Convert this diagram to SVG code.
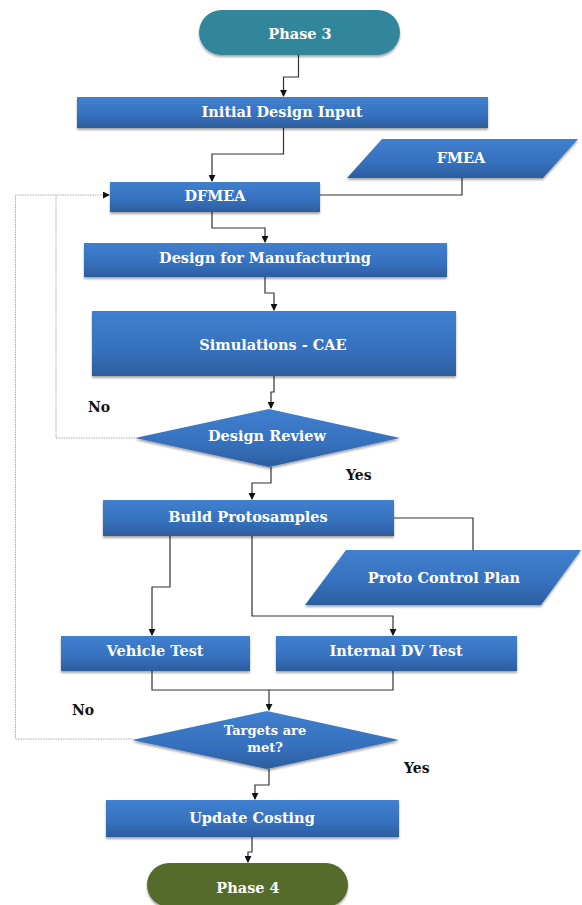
<svg xmlns="http://www.w3.org/2000/svg" width="582" height="905" viewBox="0 0 582 905">
<defs>
<linearGradient id="blue" x1="0" y1="0" x2="0" y2="1">
<stop offset="0" stop-color="#3F80CF"/>
<stop offset="0.6" stop-color="#3670BD"/>
<stop offset="1" stop-color="#2C5E9E"/>
</linearGradient>
<filter id="sh" x="-5%" y="-10%" width="110%" height="130%">
<feDropShadow dx="0" dy="2" stdDeviation="1.2" flood-color="#000" flood-opacity="0.35"/>
</filter>
<marker id="arr" viewBox="0 0 8 8" refX="7" refY="4" markerWidth="7" markerHeight="7" markerUnits="userSpaceOnUse" orient="auto">
<path d="M0,0 L8,4 L0,8 z" fill="#111"/>
</marker>
</defs>
<style>
.box{fill:url(#blue);filter:url(#sh)}
.t{font-family:"DejaVu Serif","Liberation Serif",serif;font-weight:bold;font-size:14.5px;fill:#fff;text-anchor:middle;dominant-baseline:central}
.lb{font-family:"DejaVu Serif","Liberation Serif",serif;font-weight:bold;font-size:14px;fill:#111;dominant-baseline:central}
.c{fill:none;stroke:#333;stroke-width:1.2}
.d{fill:none;stroke:#aaa;stroke-width:1;stroke-dasharray:1.5 1}
</style>
<rect width="582" height="905" fill="#fff"/>
<g id="connectors">
<path class="c" d="M298.5,55 V77 H283.5 V96" marker-end="url(#arr)"/>
<path class="c" d="M283.5,128 V154 H212 V181" marker-end="url(#arr)"/>
<path class="c" d="M462,177 V195 H320"/>
<path class="d" d="M135,438 H56 V195"/>
<path class="d" d="M132,739 H15.5 V195 H109" marker-end="url(#arr)"/>
<path class="c" d="M212,212 V228 H265 V242" marker-end="url(#arr)"/>
<path class="c" d="M265,277 V293 H274 V310" marker-end="url(#arr)"/>
<path class="c" d="M274,376 V392 H271 V408" marker-end="url(#arr)"/>
<path class="c" d="M271,467 V483 H252 V499" marker-end="url(#arr)"/>
<path class="c" d="M394,518 H473 V550"/>
<path class="c" d="M170,536 V587 H152 V635" marker-end="url(#arr)"/>
<path class="c" d="M252,536 V616 H393 V635" marker-end="url(#arr)"/>
<path class="c" d="M152,671 V690 H393 V671"/>
<path class="c" d="M269,690 V710" marker-end="url(#arr)"/>
<path class="c" d="M269,769 V785 H255 V799" marker-end="url(#arr)"/>
<path class="c" d="M252,837 V852 H248 V862" marker-end="url(#arr)"/>
</g>
<g id="phase3">
<rect x="199" y="10" width="201" height="45" rx="22.5" fill="#31869B" filter="url(#sh)"/>
<text class="t" x="300" y="33">Phase 3</text>
</g>
<g id="initial-design-input">
<rect class="box" x="77" y="97" width="411" height="31"/>
<text class="t" x="282" y="111">Initial Design Input</text>
</g>
<g id="fmea">
<polygon class="box" points="382,139 578,139 543,178 347,178"/>
<text class="t" x="461" y="157">FMEA</text>
</g>
<g id="dfmea">
<rect class="box" x="110" y="182" width="210" height="30"/>
<text class="t" x="215" y="195">DFMEA</text>
</g>
<g id="dfm">
<rect class="box" x="84" y="243" width="363" height="34"/>
<text class="t" x="265" y="257">Design for Manufacturing</text>
</g>
<g id="simulations">
<rect class="box" x="92" y="311" width="364" height="65"/>
<text class="t" x="273" y="344">Simulations - CAE</text>
</g>
<g id="design-review">
<polygon class="box" points="269,409 400,438 269,467 135,438"/>
<text class="t" x="267" y="435">Design Review</text>
</g>
<text class="lb" x="88" y="407">No</text>
<text class="lb" x="346" y="475">Yes</text>
<g id="build-protosamples">
<rect class="box" x="103" y="500" width="291" height="36"/>
<text class="t" x="248" y="516">Build Protosamples</text>
</g>
<g id="proto-control-plan">
<polygon class="box" points="346,550 581,550 541,605 305,605"/>
<text class="t" x="444" y="577">Proto Control Plan</text>
</g>
<g id="vehicle-test">
<rect class="box" x="61" y="636" width="189" height="35"/>
<text class="t" x="155" y="650">Vehicle Test</text>
</g>
<g id="internal-dv-test">
<rect class="box" x="276" y="636" width="241" height="35"/>
<text class="t" x="396" y="650">Internal DV Test</text>
</g>
<g id="targets">
<polygon class="box" points="267,711 399,740 267,769 132,740"/>
<text class="t" x="265" y="730" style="font-size:13px">Targets are</text>
<text class="t" x="265" y="747" style="font-size:13px">met?</text>
</g>
<text class="lb" x="72" y="710">No</text>
<text class="lb" x="404" y="768">Yes</text>
<g id="update-costing">
<rect class="box" x="106" y="800" width="293" height="37"/>
<text class="t" x="252" y="817">Update Costing</text>
</g>
<g id="phase4">
<rect x="147" y="863" width="201" height="44" rx="22" fill="#566B2C" filter="url(#sh)"/>
<text class="t" x="248" y="887">Phase 4</text>
</g>
</svg>
